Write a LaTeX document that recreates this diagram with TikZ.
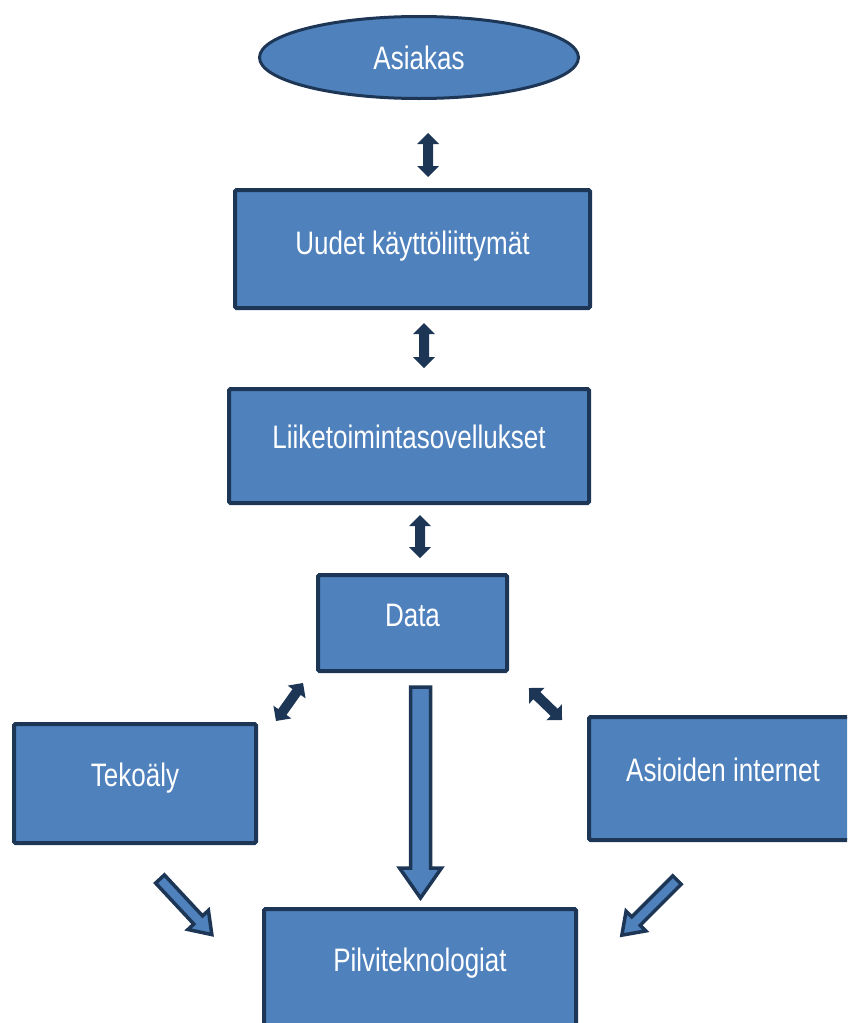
\documentclass[tikz,border=0pt]{standalone}
\usepackage{fontspec}
\setmainfont{Liberation Sans}
\usetikzlibrary{shapes.geometric}
\definecolor{boxfill}{HTML}{4F81BD}
\definecolor{boxline}{HTML}{1D3656}
\newcommand\tallt[1]{\scalebox{1}[1.25]{#1}}
\newcommand\dblarr[4]{%
  \begin{scope}[shift={(#1,#2)},rotate=#3]
    \fill[boxline] (-#4,0) -- (-#4+11,11) -- (-#4+11,5) -- (#4-11,5) -- (#4-11,11) -- (#4,0)
      -- (#4-11,-11) -- (#4-11,-5) -- (-#4+11,-5) -- (-#4+11,-11) -- cycle;
  \end{scope}}
% #1,#2 tail centre, #3 angle, #4 length, #5 shaft half width, #6 head half width, #7 head length
\newcommand\blkarr[7]{%
  \begin{scope}[shift={(#1,#2)},rotate=#3]
    \filldraw[fill=boxfill,draw=boxline,line width=3.5pt,line join=miter]
      (0,-#5) -- (#4-#7,-#5) -- (#4-#7,-#6) -- (#4,0) -- (#4-#7,#6) -- (#4-#7,#5) -- (0,#5) -- cycle;
  \end{scope}}
\begin{document}
\begin{tikzpicture}[x=1pt,y=-1pt,
  box/.style={draw=boxline, line width=4pt, fill=boxfill, rounded corners=1.5pt,
    inner sep=0pt, text=white, font=\fontsize{26}{30}\selectfont, text height=23.3pt},
  oval/.style={ellipse, draw=boxline, line width=3pt, fill=boxfill, inner sep=0pt,
    text=white, font=\fontsize{26}{30}\selectfont, text height=23.3pt, text depth=0pt}]
\useasboundingbox (0,0) rectangle (847,1023);
\clip (0,0) rectangle (847,1023);

\node[oval, minimum width=319pt, minimum height=82pt] (asiakas) at (419,57.5) {\tallt{Asiakas}};
\node[box, minimum width=355pt, minimum height=118pt, text depth=12pt] (uudet) at (412.5,249) {\tallt{Uudet käyttöliittymät}};
\node[box, minimum width=360pt, minimum height=114pt, text depth=18pt] (liike) at (409,446) {\tallt{Liiketoimintasovellukset}};
\node[box, minimum width=189pt, minimum height=96pt, text depth=16pt] (data) at (412.5,623) {\tallt{Data}};
\node[box, minimum width=242pt, minimum height=119pt, text depth=17pt] (teko) at (135,783.5) {\tallt{Tekoäly}};
\node[box, minimum width=268pt, minimum height=123pt, text depth=17pt] (iot) at (723,778.5) {\tallt{Asioiden internet}};
\node[box, minimum width=312pt, minimum height=118pt, text depth=16pt] (pilvi) at (420,968) {\tallt{Pilviteknologiat}};

\dblarr{428}{155}{90}{22}
\dblarr{424}{345.5}{90}{22.5}
\dblarr{420}{536.5}{90}{21.5}
\dblarr{289.5}{702}{54.6}{23.3}
\dblarr{545.5}{704}{-44}{23}

\blkarr{420.5}{687}{-90}{211}{10}{21}{30}
\blkarr{160}{879}{-47}{76}{6}{14}{20}
\blkarr{677}{880}{-135}{78}{6}{14}{20}
\end{tikzpicture}
\end{document}
